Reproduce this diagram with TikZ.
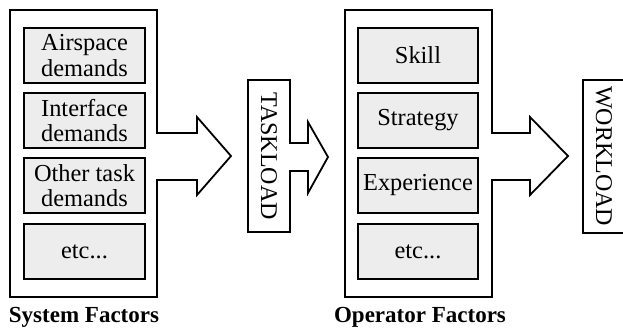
\documentclass[tikz,border=0pt]{standalone}
\usepackage{fontspec}
\setmainfont{Liberation Serif}
\begin{document}
\begin{tikzpicture}[x=0.5pt,y=-0.5pt,
  line width=0.9pt, line join=miter,
  factorbox/.style={draw, fill=gray!14, minimum width=60.5pt, minimum height=27.5pt, inner sep=0pt, align=center, font=\fontsize{12.2}{12.6}\selectfont},
  optbox/.style={factorbox, minimum width=60pt},
  outline/.style={draw, fill=white},
  vlabel/.style={rotate=-90, font=\fontsize{12}{12.5}\selectfont},
  caption/.style={font=\fontsize{11.5}{12.5}\selectfont\bfseries}]
\useasboundingbox (0,0) rectangle (623,329);
% System factors outline with arrow
\draw[outline] (10,10) -- (157,10) -- (157,133) -- (197,133) -- (197,117) -- (231,156)
  -- (197,195) -- (197,180) -- (157,180) -- (157,297) -- (10,297) -- cycle;
\node[factorbox] (air) at (84.5,55.5) {Airspace\\demands};
\node[factorbox] (int) at (84.5,120.5) {Interface\\demands};
\node[factorbox] (oth) at (84.5,185.5) {Other task\\demands};
\node[factorbox] (etc1) at (84.5,251.5) {etc...};
\node[caption] (sys) at (84,317) {System Factors};
% Taskload
\draw[outline] (248,80) -- (290,80) -- (290,143) -- (308,143) -- (308,122) -- (328,157)
  -- (308,193) -- (308,171) -- (290,171) -- (290,232) -- (248,232) -- cycle;
\node[vlabel] (task) at (269,156) {TASKLOAD};
% Operator factors outline with arrow
\draw[outline] (345,10) -- (492,10) -- (492,133) -- (530,133) -- (530,117) -- (568,156)
  -- (530,195) -- (530,180) -- (492,180) -- (492,297) -- (345,297) -- cycle;
\node[optbox] (skill) at (418,55.5) {Skill};
\node[optbox] (strat) at (418,120.5) {Strategy};
\node[optbox] (exp) at (418,185.5) {Experience};
\node[optbox] (etc2) at (418,251.5) {etc...};
\node[caption] (op) at (420,317) {Operator Factors};
% Workload
\draw[outline] (583,80) rectangle (640,233);
\node[vlabel] (work) at (604,156) {WORKLOAD};
\end{tikzpicture}
\end{document}
